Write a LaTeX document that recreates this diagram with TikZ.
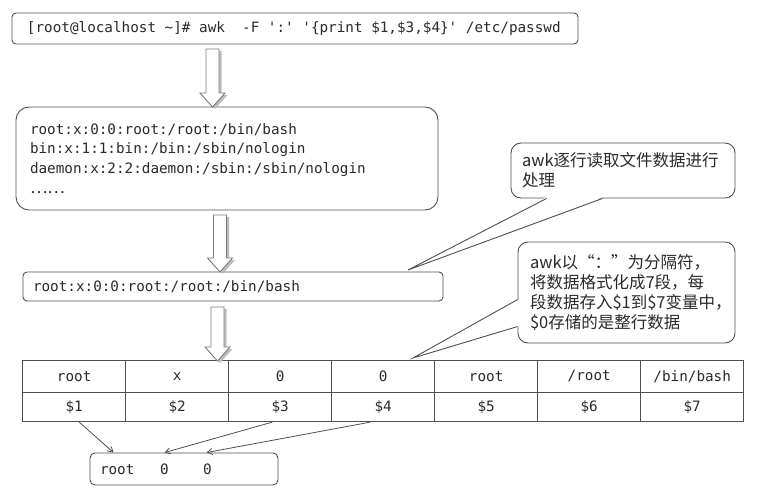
\documentclass[tikz,border=0pt]{standalone}
\usepackage{fontspec}
\setmonofont{DejaVu Sans Mono}
\newfontfamily\cjk{Noto Sans CJK SC}
\usetikzlibrary{arrows.meta,calc}
\definecolor{linec}{HTML}{505050}
\definecolor{txtc}{HTML}{2A2A2A}
\definecolor{arrc}{HTML}{7A7A7A}
\definecolor{shadc}{HTML}{BDBDBD}
\newcommand\ms{\hspace*{8.6pt}}
\tikzset{
  box/.style={draw=linec, line width=0.9pt, fill=white, text=txtc, align=left, inner ysep=0pt,
    font=\ttfamily\fontsize{14.3}{19.7}\selectfont},
  callout/.style={draw=linec, line width=0.9pt, fill=white, text=txtc, rounded corners=10pt,
    align=left, inner ysep=0pt, font=\cjk\fontsize{16.5}{20.3}\selectfont},
  cell/.style={draw=linec, line width=0.9pt, minimum width=103pt, inner sep=0pt, text=txtc,
    font=\ttfamily\fontsize{14.3}{16}\selectfont},
  link/.style={draw=linec, line width=0.8pt, -{Straight Barb[length=5pt,width=6pt]}},
  harr/.style={draw=arrc, line width=0.9pt, fill=white},
  ashadow/.style={fill=shadc},
  pointer/.style={draw=linec, line width=0.9pt},
}
\newcommand\hollowarrow[3]{%
  \foreach \dx/\dy/\st in {2.5/2/ashadow, 0/0/harr} {
    \path[\st] (#1-6.5+\dx,#2+\dy) -- (#1+6.5+\dx,#2+\dy) -- (#1+6.5+\dx,#3-14+\dy)
      -- (#1+12.5+\dx,#3-14+\dy) -- (#1+\dx,#3+\dy) -- (#1-12.5+\dx,#3-14+\dy)
      -- (#1-6.5+\dx,#3-14+\dy) -- cycle;
  }}
\begin{document}
\begin{tikzpicture}[x=1pt,y=-1pt]
\useasboundingbox[fill=white] (0,0) rectangle (766,500);

% command box
\node[box, rounded corners=4pt, minimum height=31pt, inner xsep=15pt, text width=536pt] (cmd) at (295,28.5)
  {[root@localhost\ms\textasciitilde]\#\ms awk\ms\ms-F\ms':'\ms'\{print\ms\$1,\$3,\$4\}'\ms/etc/passwd};

% file content box
\node[box, rounded corners=13pt, minimum height=103pt, inner xsep=14pt, text width=394pt] (file) at (227,158.5)
  {root:x:0:0:root:/root:/bin/bash\\
   bin:x:1:1:bin:/bin:/sbin/nologin\\
   daemon:x:2:2:daemon:/sbin:/sbin/nologin\\
   {\cjk\fontsize{16.5}{19.7}\selectfont ……}};

% single line box
\node[box, rounded corners=4pt, minimum height=29pt, inner xsep=10pt, text width=400pt] (line) at (233,286.5)
  {root:x:0:0:root:/root:/bin/bash};

% table
\foreach \t [count=\i] in {root,x,0,0,root,/root,/bin/bash}
  \node[cell, minimum height=31.3pt] (a\i) at ({22.7+103*(\i-0.5)},376.35) {\t};
\foreach \i in {1,...,7}
  \node[cell, minimum height=29.7pt] (b\i) at ({22.7+103*(\i-0.5)},406.85) {\$\i};

% result box
\node[box, rounded corners=5pt, minimum height=32pt, inner xsep=10pt, text width=168pt] (res) at (184,469)
  {root\ms\ms\ms0\ms\ms\ms\ms0};

% callouts
\node[callout, minimum height=55pt, inner xsep=11pt, text width=202pt] (co1) at (623,170.5)
  {awk逐行读取文件数据进行\\处理};
\node[callout, minimum height=101pt, inner xsep=12pt, text width=193pt] (co2) at (626.5,292.5)
  {awk以“：”为分隔符，\\将数据格式化成7段，每\\段数据存入\$1到\$7变量中，\\\$0存储的是整行数据};

\coordinate (t1) at (408,270);
\coordinate (t2) at (413,358);
\fill[white] ($(co1.south west)+(36,-1.5)$) -- (t1) -- ($(co1.south west)+(92,-1.5)$) -- cycle;
\draw[pointer] ($(co1.south west)+(36,0)$) -- (t1) -- ($(co1.south west)+(92,0)$);
\fill[white] ($(co2.north west)+(1.5,58)$) -- (t2) -- ($(co2.north west)+(1.5,85)$) -- cycle;
\draw[pointer] ($(co2.north west)+(0,58)$) -- (t2) -- ($(co2.north west)+(0,85)$);

% hollow arrows
\hollowarrow{212.5}{49}{107}
\hollowarrow{220}{215}{272}
\hollowarrow{217.5}{307}{361}

% links to result
\draw[link] ($(b1.south)+(5,0)$) -- ($(res.north west)+(24,0)$);
\draw[link] ($(b3.south)+(-8,0)$) -- ($(res.north west)+(75,0)$);
\draw[link] ($(b4.south)+(-13,0)$) -- ($(res.north west)+(117,0)$);
\end{tikzpicture}
\end{document}
